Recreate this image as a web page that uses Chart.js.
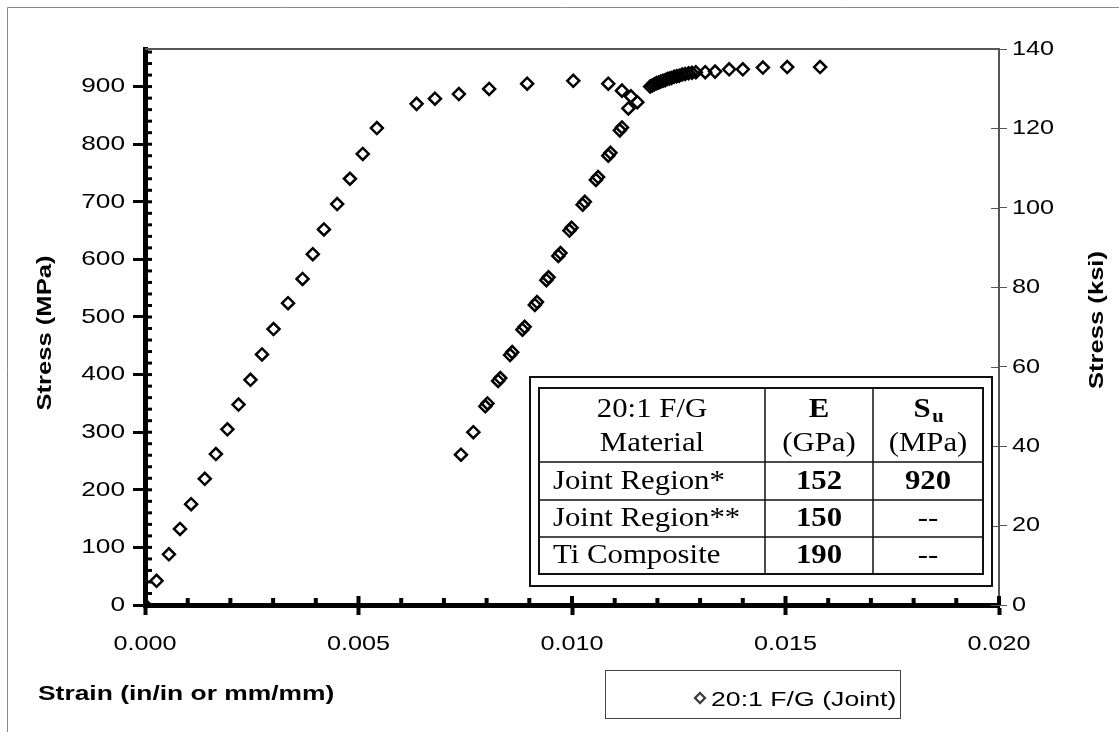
<!DOCTYPE html>
<html>
<head>
<meta charset="utf-8">
<script src="https://cdn.jsdelivr.net/npm/chart.js@4.4.1/dist/chart.umd.min.js"></script>
<style>
  html, body { margin: 0; padding: 0; background: #fff; }
  #wrap { width: 1119px; height: 732px; position: relative; }
</style>
</head>
<body>
<div id="wrap"><canvas id="myChart"></canvas></div>
<script>
// first loading curve
const strain1 = [0, 0.00027, 0.00056, 0.00082, 0.00108, 0.00140, 0.00166, 0.00193, 0.00219, 0.00247,
  0.00274, 0.00301, 0.00335, 0.00369, 0.00393, 0.00419, 0.00450, 0.00480, 0.00510, 0.00543,
  0.00636, 0.00679, 0.00735, 0.00806, 0.00895, 0.01003, 0.01085, 0.01117, 0.01138, 0.01153, 0.01132];
const stress1 = [0, 42, 88, 132, 175, 219, 262, 305, 348, 391,
  435, 479, 524, 566, 609, 652, 696, 740, 783, 828,
  870, 879, 887, 896, 905, 910, 905, 893, 883, 873, 862];

// second loading curve (doubled readings)
const strain2 = [0.00740, 0.00769, 0.00797, 0.00802, 0.00827, 0.00832, 0.00855, 0.00860, 0.00884, 0.00889,
  0.00913, 0.00918, 0.00940, 0.00945, 0.00968, 0.00973, 0.00994, 0.00999, 0.01025, 0.01030,
  0.01056, 0.01061, 0.01085, 0.01090, 0.01112, 0.01117,
  0.01183, 0.01188, 0.01193, 0.01198, 0.01203, 0.01208, 0.01213, 0.01218, 0.01223, 0.01228,
  0.01233, 0.01239, 0.01245, 0.01251, 0.01258, 0.01265, 0.01273, 0.01281, 0.01290,
  0.01312, 0.01335, 0.01368, 0.01400, 0.01447, 0.01504, 0.01581];
const stress2 = [261, 300, 345, 350, 389, 394, 434, 439, 478, 483,
  521, 526, 564, 569, 606, 611, 650, 655, 695, 700,
  738, 743, 780, 785, 824, 829,
  900, 902, 904, 906, 907, 909, 910, 911, 913, 914,
  915, 917, 918, 919, 921, 922, 923, 924, 925,
  925, 926, 930, 930, 933, 934, 934];

const xTickValues = [0, 0.005, 0.010, 0.015, 0.020];
const mpaTickValues = [0, 100, 200, 300, 400, 500, 600, 700, 800, 900];
const ksiTickValues = [0, 20, 40, 60, 80, 100, 120, 140];
const MPA_PER_KSI = 6.894757;
const KSI_MAX = 140;

const tableHead = [['20:1 F/G', 'Material'], ['E', '(GPa)'], ['S', '(MPa)']];
const tableRows = [
  ['Joint Region*', '152', '920'],
  ['Joint Region**', '150', '--'],
  ['Ti Composite', '190', '--']
];
const seriesName = '20:1 F/G (Joint)';

const points = [];
strain1.forEach((s, i) => points.push({ x: s, y: stress1[i] }));
strain2.forEach((s, i) => points.push({ x: s, y: stress2[i] }));

const SANS = '"Liberation Sans", Arial, sans-serif';
const SERIF = '"Liberation Serif", "Times New Roman", serif';

// the scanned original has its lettering a bit wide, so stretch it horizontally
function wideText(ctx, text, x, y, sx, align, rot) {
  ctx.save();
  ctx.translate(x, y);
  if (rot) ctx.rotate(rot);
  ctx.scale(sx, 1);
  ctx.textAlign = align;
  ctx.fillText(text, 0, 0);
  ctx.restore();
}

const decor = {
  id: 'decor',
  beforeDatasetsDraw(chart) {
    const ctx = chart.ctx;
    const a = chart.chartArea;
    const xs = chart.scales.x, ys = chart.scales.y, y2 = chart.scales.y2;
    ctx.save();
    // plot border top
    ctx.strokeStyle = '#555';
    ctx.lineWidth = 2;
    ctx.beginPath();
    ctx.moveTo(a.left, a.top);
    ctx.lineTo(a.right, a.top);
    ctx.stroke();
    ctx.strokeStyle = '#000';
    // x minor ticks (inside)
    ctx.lineWidth = 4;
    for (let i = 0; i <= 20; i++) {
      const px = xs.getPixelForValue(i / 1000);
      const major = i % 5 === 0;
      ctx.beginPath();
      ctx.moveTo(px, a.bottom);
      ctx.lineTo(px, a.bottom - (major ? 9 : 7));
      ctx.stroke();
    }
    // left axis minor ticks (inside)
    ctx.lineWidth = 3;
    for (let v = 0; v <= 960; v += 20) {
      const py = ys.getPixelForValue(v);
      ctx.beginPath();
      ctx.moveTo(a.left, py);
      ctx.lineTo(a.left + 7, py);
      ctx.stroke();
    }
    // right axis ticks inside
    ctx.strokeStyle = '#555';
    ctx.lineWidth = 1;
    ksiTickValues.forEach(v => {
      const py = Math.round(y2.getPixelForValue(v)) + 0.5;
      ctx.beginPath();
      ctx.moveTo(a.right - 8, py);
      ctx.lineTo(a.right, py);
      ctx.stroke();
    });
    ctx.restore();
  },
  afterDraw(chart) {
    const ctx = chart.ctx;
    const xs = chart.scales.x, ys = chart.scales.y, y2 = chart.scales.y2;
    ctx.save();
    // outer frame (left + top)
    ctx.strokeStyle = '#888';
    ctx.lineWidth = 1;
    ctx.beginPath();
    ctx.moveTo(7.5, 732);
    ctx.lineTo(7.5, 7.5);
    ctx.lineTo(1119, 7.5);
    ctx.stroke();

    // tick labels
    ctx.fillStyle = '#000';
    ctx.textBaseline = 'middle';
    ctx.font = '21px ' + SANS;
    xTickValues.forEach(v => wideText(ctx, v.toFixed(3), xs.getPixelForValue(v), 644, 1.2, 'center'));
    mpaTickValues.forEach(v => wideText(ctx, String(v), 125, ys.getPixelForValue(v), 1.25, 'right'));
    ksiTickValues.forEach(v => wideText(ctx, String(v), 1012, y2.getPixelForValue(v), 1.2, 'left'));

    // axis titles
    ctx.font = 'bold 20px ' + SANS;
    wideText(ctx, 'Stress (MPa)', 45, 333, 1.28, 'center', -Math.PI / 2);
    wideText(ctx, 'Stress (ksi)', 1097, 320, 1.28, 'center', -Math.PI / 2);
    wideText(ctx, 'Strain (in/in or mm/mm)', 38, 694, 1.32, 'left');

    // legend
    ctx.fillStyle = '#fff';
    ctx.fillRect(605, 670, 295, 48);
    ctx.strokeStyle = '#444';
    ctx.lineWidth = 1;
    ctx.strokeRect(605.5, 670.5, 295, 48);
    ctx.lineWidth = 2;
    Chart.helpers.drawPoint(ctx, { pointStyle: 'rectRot', radius: 5, borderWidth: 2 }, 700, 698);
    ctx.stroke();
    ctx.fillStyle = '#000';
    ctx.font = '21px ' + SANS;
    wideText(ctx, seriesName, 711, 700, 1.27, 'left');

    // table
    ctx.fillStyle = '#fff';
    ctx.fillRect(530, 377, 462, 209);
    ctx.strokeStyle = '#111';
    ctx.lineWidth = 2;
    ctx.strokeRect(530, 377, 462, 209);
    ctx.strokeRect(539, 388, 444, 186);
    ctx.lineWidth = 1.5;
    const colX = [765, 873];
    const rowY = [462, 500, 537];
    colX.forEach(x => { ctx.beginPath(); ctx.moveTo(x, 388); ctx.lineTo(x, 574); ctx.stroke(); });
    rowY.forEach(y => { ctx.beginPath(); ctx.moveTo(539, y); ctx.lineTo(983, y); ctx.stroke(); });
    const colC = [652, 819, 928];
    const sx = 1.14;
    ctx.fillStyle = '#000';
    ctx.font = '27px ' + SERIF;
    wideText(ctx, tableHead[0][0], colC[0], 410, sx, 'center');
    wideText(ctx, tableHead[0][1], colC[0], 444, sx, 'center');
    wideText(ctx, tableHead[1][1], colC[1], 444, sx, 'center');
    wideText(ctx, tableHead[2][1], colC[2], 444, sx, 'center');
    ctx.font = 'bold 27px ' + SERIF;
    wideText(ctx, tableHead[1][0], colC[1], 410, sx, 'center');
    wideText(ctx, tableHead[2][0], colC[2] - 6, 410, sx, 'center');
    ctx.font = 'bold 18px ' + SERIF;
    wideText(ctx, 'u', colC[2] + 10, 417, sx, 'center');
    const rowC = [482, 519, 556];
    tableRows.forEach((r, i) => {
      ctx.font = '27px ' + SERIF;
      wideText(ctx, r[0], 553, rowC[i], sx, 'left');
      ctx.font = 'bold 27px ' + SERIF;
      wideText(ctx, r[1], colC[1], rowC[i], sx, 'center');
      ctx.font = (r[2] === '--' ? '' : 'bold ') + '27px ' + SERIF;
      wideText(ctx, r[2], colC[2], rowC[i], sx, 'center');
    });
    ctx.restore();
  }
};

const ctx = document.getElementById('myChart');

new Chart(ctx, {
  type: 'scatter',
  data: {
    datasets: [{
      label: seriesName,
      data: points,
      pointStyle: 'rectRot',
      pointRadius: 6,
      pointBorderWidth: 2.5,
      pointBackgroundColor: 'rgba(255,255,255,0)',
      pointBorderColor: '#000',
      showLine: false
    }]
  },
  options: {
    responsive: true,
    maintainAspectRatio: false,
    animation: false,
    layout: { padding: { top: 49, left: 0, right: 0, bottom: 0 } },
    plugins: { legend: { display: false }, tooltip: { enabled: false } },
    scales: {
      x: {
        type: 'linear',
        min: 0,
        max: 0.02,
        afterBuildTicks: s => { s.ticks = xTickValues.map(v => ({ value: v })); },
        afterFit: s => { s.height = 127; },
        ticks: { display: false },
        grid: { drawOnChartArea: false, drawTicks: true, tickLength: 10, tickWidth: 4, tickColor: '#000' },
        border: { display: true, width: 5, color: '#000' }
      },
      y: {
        type: 'linear',
        position: 'left',
        min: 0,
        max: KSI_MAX * MPA_PER_KSI,
        afterBuildTicks: s => { s.ticks = mpaTickValues.map(v => ({ value: v })); },
        afterFit: s => { s.width = 145; },
        ticks: { display: false },
        grid: { drawOnChartArea: false, drawTicks: true, tickLength: 12, tickWidth: 3, tickColor: '#000' },
        border: { display: true, width: 5, color: '#000' }
      },
      y2: {
        type: 'linear',
        position: 'right',
        min: 0,
        max: KSI_MAX,
        afterBuildTicks: s => { s.ticks = ksiTickValues.map(v => ({ value: v })); },
        afterFit: s => { s.width = 120; },
        ticks: { display: false },
        grid: { drawOnChartArea: false, drawTicks: true, tickLength: 8, tickWidth: 1, tickColor: '#555' },
        border: { display: true, width: 2, color: '#555' }
      }
    }
  },
  plugins: [decor]
});
</script>
</body>
</html>
